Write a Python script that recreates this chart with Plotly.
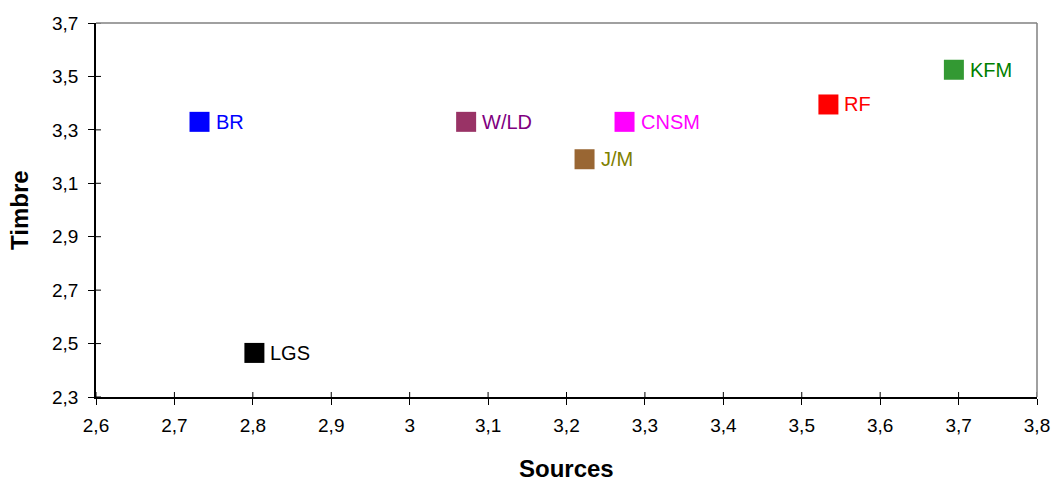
import plotly.graph_objects as go

# Perceptual scores per group
groups = ["BR", "LGS", "W/LD", "J/M", "CNSM", "RF", "KFM"]
sources = [2.732, 2.802, 3.072, 3.223, 3.274, 3.534, 3.694]
timbre = [3.33, 2.465, 3.33, 3.19, 3.33, 3.395, 3.525]
marker_colors = ["#0000FF", "#000000", "#993366", "#996633", "#FF00FF", "#FF0000", "#339933"]
label_colors = ["#0000FF", "#000000", "#800080", "#808000", "#FF00FF", "#FF0000", "#008000"]

x_range = [2.6, 3.8]
y_range = [2.3, 3.7]
x_ticks = [2.6, 2.7, 2.8, 2.9, 3.0, 3.1, 3.2, 3.3, 3.4, 3.5, 3.6, 3.7, 3.8]
y_ticks = [2.3, 2.5, 2.7, 2.9, 3.1, 3.3, 3.5, 3.7]


def fmt(v):
    s = f"{v:.1f}".replace(".", ",")
    return s[:-2] if s.endswith(",0") else s


FONT = "Liberation Sans, Arial, sans-serif"

fig = go.Figure()
for g, xv, yv, mc in zip(groups, sources, timbre, marker_colors):
    fig.add_trace(go.Scatter(
        x=[xv], y=[yv], mode="markers",
        marker=dict(symbol="square", size=20, color=mc, line=dict(width=0)),
        name=g, showlegend=False, hoverinfo="skip", cliponaxis=False,
    ))

# point labels, to the right of each marker
annotations = [
    dict(x=xv, y=yv, xref="x", yref="y", text=g, showarrow=False,
         xanchor="left", yanchor="middle", xshift=14,
         font=dict(family=FONT, size=20, color=lc))
    for g, xv, yv, lc in zip(groups, sources, timbre, label_colors)
]

# axis titles
annotations += [
    dict(x=0.5, y=0, xref="paper", yref="paper", text="<b>Sources</b>", showarrow=False,
         xanchor="center", yanchor="bottom", yshift=-86, borderpad=0,
         font=dict(family=FONT, size=24, color="black")),
    dict(x=0, y=0.5, xref="paper", yref="paper", text="<b>Timbre</b>", showarrow=False,
         xanchor="center", yanchor="middle", xshift=-77, textangle=-90,
         font=dict(family=FONT, size=24, color="black")),
]

# inner half of the crossing tick marks
shapes = [
    dict(type="line", xref="x", yref="y", x0=t, x1=t, ysizemode="pixel",
         yanchor=y_range[0], y0=0, y1=5, line=dict(color="black", width=1))
    for t in x_ticks
] + [
    dict(type="line", xref="x", yref="y", y0=t, y1=t, xsizemode="pixel",
         xanchor=x_range[0], x0=0, x1=5, line=dict(color="black", width=1))
    for t in y_ticks
] + [
    dict(type="line", xref="paper", yref="paper", x0=0, x1=1, y0=1, y1=1,
         line=dict(color="#808080", width=1.5)),
    dict(type="line", xref="paper", yref="paper", x0=1, x1=1, y0=0, y1=1,
         line=dict(color="#808080", width=1.5)),
]

axis_common = dict(showgrid=False, zeroline=False, ticks="outside", ticklen=6,
                   tickcolor="black", tickwidth=1, showline=True, linecolor="black",
                   linewidth=1.5, automargin=False,
                   tickfont=dict(family=FONT, size=19, color="black"))

fig.update_layout(
    width=1059, height=483,
    margin=dict(l=96, r=22, t=23, b=86, autoexpand=False),
    paper_bgcolor="white", plot_bgcolor="white",
    xaxis=dict(range=x_range, tickvals=x_ticks, ticktext=[fmt(v) for v in x_ticks],
               ticklabelstandoff=4, **axis_common),
    yaxis=dict(range=y_range, tickvals=y_ticks, ticktext=[fmt(v) for v in y_ticks],
               ticklabelstandoff=6, **axis_common),
    shapes=shapes,
    annotations=annotations,
)

fig.write_html("out.html")
